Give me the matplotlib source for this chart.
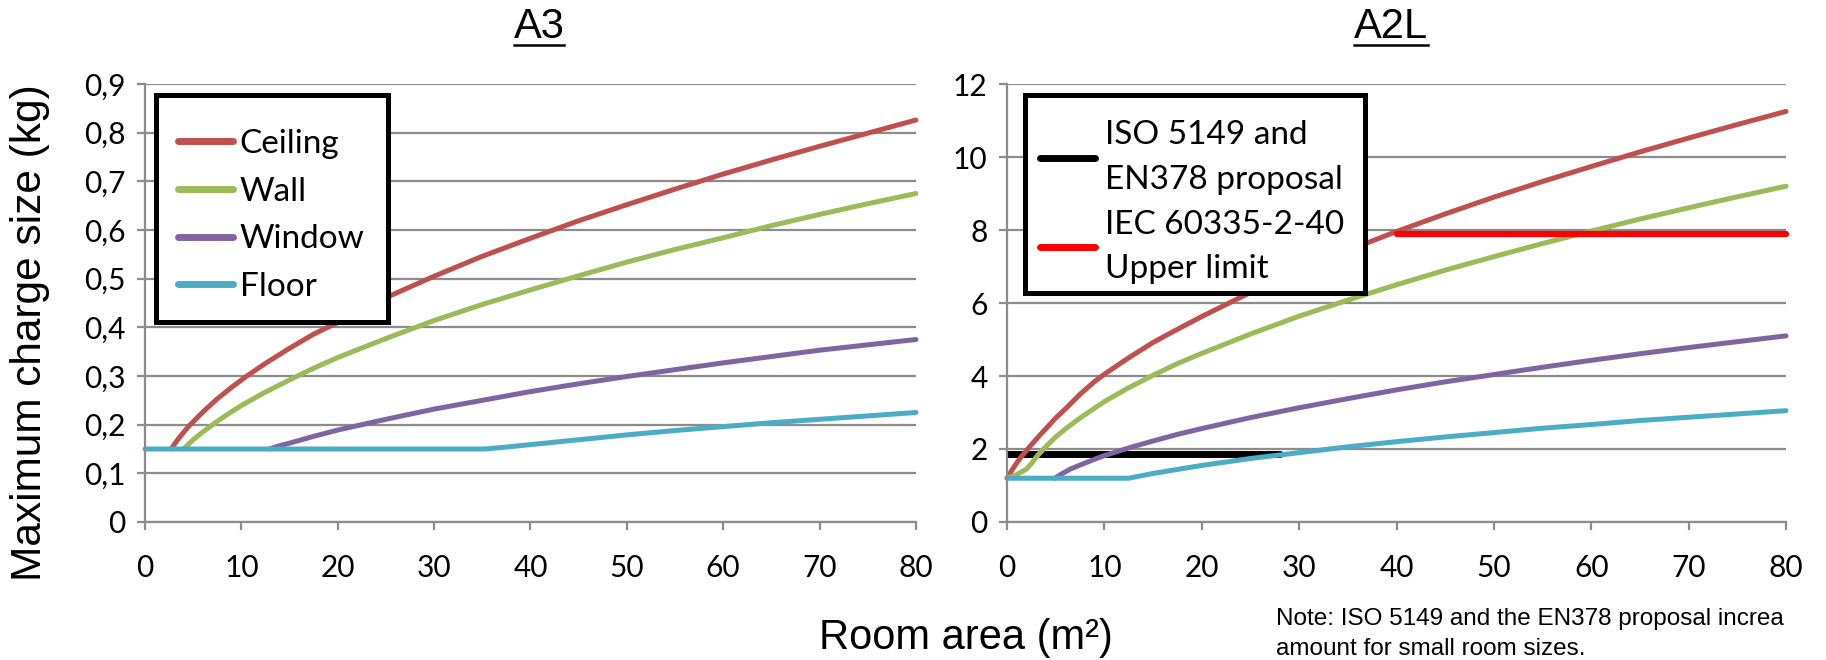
import matplotlib.pyplot as plt
from matplotlib.lines import Line2D
from matplotlib.patches import Rectangle

# ---------- DATA ----------
# A3 refrigerant, max charge size (kg) vs room area (m2)
a3_ceiling_x = [2.7, 3.5, 4.5, 6, 7.5, 9, 10.5, 12.5, 15, 17.5, 20, 25, 30, 35, 40, 45, 50, 55, 60, 65, 70, 75, 80]
a3_ceiling_y = [0.15, 0.172, 0.196, 0.226, 0.253, 0.277, 0.299, 0.326, 0.357, 0.386, 0.41, 0.461, 0.505,
                0.546, 0.583, 0.619, 0.652, 0.684, 0.715, 0.744, 0.772, 0.799, 0.826]
a3_wall_x = [4.0, 5, 6, 7.5, 9, 10.5, 12.5, 15, 17.5, 20, 25, 30, 35, 40, 45, 50, 55, 60, 65, 70, 75, 80]
a3_wall_y = [0.15, 0.169, 0.185, 0.207, 0.227, 0.245, 0.267, 0.292, 0.316, 0.338, 0.377, 0.414, 0.447,
             0.477, 0.506, 0.534, 0.56, 0.584, 0.609, 0.632, 0.654, 0.675]
a3_window_x = [12.9, 14, 15, 17.5, 20, 25, 30, 35, 40, 45, 50, 55, 60, 65, 70, 75, 80]
a3_window_y = [0.15, 0.157, 0.162, 0.176, 0.189, 0.211, 0.232, 0.25, 0.268, 0.284, 0.299, 0.313, 0.327,
               0.34, 0.353, 0.364, 0.375]
a3_floor_x = [0, 35.3, 37.5, 40, 45, 50, 55, 60, 65, 70, 75, 80]
a3_floor_y = [0.15, 0.15, 0.154, 0.159, 0.169, 0.179, 0.188, 0.196, 0.204, 0.211, 0.218, 0.225]

# A2L refrigerant
a2l_ceiling_x = [0, 0.5, 1, 1.5, 2, 3, 4, 5, 6, 7.5, 9, 10, 12.5, 15, 17.5, 20, 25, 30, 35, 40, 45, 50,
                 55, 60, 65, 70, 75, 80]
a2l_ceiling_y = [1.2, 1.42, 1.62, 1.8, 1.96, 2.27, 2.56, 2.85, 3.1, 3.5, 3.85, 4.05, 4.5, 4.92, 5.28, 5.63,
                 6.29, 6.89, 7.44, 7.96, 8.44, 8.9, 9.33, 9.74, 10.14, 10.52, 10.89, 11.25]
a2l_wall_x = [0, 1, 2, 2.5, 3, 4, 5, 6, 7.5, 9, 10, 12.5, 15, 17.5, 20, 25, 30, 35, 40, 45, 50, 55, 60,
              65, 70, 75, 80]
a2l_wall_y = [1.2, 1.3, 1.45, 1.6, 1.78, 2.07, 2.33, 2.55, 2.85, 3.12, 3.3, 3.68, 4.02, 4.34, 4.62, 5.15,
              5.64, 6.08, 6.5, 6.9, 7.27, 7.63, 7.97, 8.3, 8.61, 8.91, 9.2]
a2l_window_x = [4.9, 5.5, 6.5, 7.5, 9, 10, 12.5, 15, 17.5, 20, 25, 30, 35, 40, 45, 50, 55, 60, 65, 70, 75, 80]
a2l_window_y = [1.2, 1.3, 1.45, 1.56, 1.72, 1.82, 2.03, 2.22, 2.4, 2.56, 2.86, 3.13, 3.38, 3.62, 3.84, 4.04,
                4.24, 4.43, 4.61, 4.78, 4.94, 5.1]
a2l_floor_x = [0, 12.5, 15, 17.5, 20, 25, 30, 35, 40, 45, 50, 55, 60, 65, 70, 75, 80]
a2l_floor_y = [1.2, 1.2, 1.33, 1.44, 1.55, 1.74, 1.9, 2.06, 2.2, 2.33, 2.45, 2.57, 2.67, 2.78, 2.87, 2.96, 3.05]
iso_x = [0, 28]
iso_y = [1.85, 1.85]
iec_x = [40, 80]
iec_y = [7.9, 7.9]

x_ticks = [0, 10, 20, 30, 40, 50, 60, 70, 80]
a3_yticks = [0, 0.1, 0.2, 0.3, 0.4, 0.5, 0.6, 0.7, 0.8, 0.9]
a3_ylabels = ["0", "0,1", "0,2", "0,3", "0,4", "0,5", "0,6", "0,7", "0,8", "0,9"]
a2l_yticks = [0, 2, 4, 6, 8, 10, 12]

# ---------- STYLE ----------
C_CEIL = "#C0504D"
C_WALL = "#9BBB59"
C_WIN = "#8064A2"
C_FLOOR = "#4BACC6"
GRID = "#8C8C8C"
TICK_FONT = "Lato"
TEXT_FONT = "Liberation Sans"
LW = 3.6

fig = plt.figure(figsize=(18.26, 6.6), dpi=100)
ax1 = fig.add_axes([0.0794, 0.2091, 0.4222, 0.6636])
ax2 = fig.add_axes([0.5515, 0.2091, 0.4266, 0.6636])


def style_axes(ax, yticks, ylabels, ymax):
    ax.set_xlim(0, 80)
    ax.set_ylim(0, ymax)
    ax.set_xticks(x_ticks)
    ax.set_yticks(yticks)
    ax.set_xticklabels([str(t) for t in x_ticks], fontfamily=TICK_FONT, fontsize=21.5)
    ax.set_yticklabels(ylabels, fontfamily=TICK_FONT, fontsize=21.5)
    for s in ["top", "right"]:
        ax.spines[s].set_visible(False)
    for s in ["left", "bottom"]:
        ax.spines[s].set_color(GRID)
        ax.spines[s].set_linewidth(1.6)
    ax.tick_params(axis="both", direction="out", length=6, width=1.6, color=GRID)
    ax.tick_params(axis="x", pad=17)
    ax.tick_params(axis="y", pad=8)
    ax.yaxis.grid(True, color=GRID, linewidth=1.6)
    ax.set_axisbelow(True)


style_axes(ax1, a3_yticks, a3_ylabels, 0.9)
style_axes(ax2, a2l_yticks, [str(t) for t in a2l_yticks], 12)

kw = dict(linewidth=LW, solid_capstyle="round", solid_joinstyle="round", clip_on=False)

# A3 panel
ax1.plot(a3_ceiling_x, a3_ceiling_y, color=C_CEIL, label="Ceiling", **kw)
ax1.plot(a3_wall_x, a3_wall_y, color=C_WALL, label="Wall", **kw)
ax1.plot(a3_window_x, a3_window_y, color=C_WIN, label="Window", **kw)
ax1.plot(a3_floor_x, a3_floor_y, color=C_FLOOR, label="Floor", **kw)

# A2L panel
ax2.plot(iso_x, iso_y, color="black", linewidth=5, solid_capstyle="round",
         label="ISO 5149 and\nEN378 proposal")
ax2.plot(a2l_ceiling_x, a2l_ceiling_y, color=C_CEIL, **kw)
ax2.plot(a2l_wall_x, a2l_wall_y, color=C_WALL, **kw)
ax2.plot(a2l_window_x, a2l_window_y, color=C_WIN, **kw)
ax2.plot(a2l_floor_x, a2l_floor_y, color=C_FLOOR, **kw)
ax2.plot(iec_x, iec_y, color="#FF0000", linewidth=4.5, solid_capstyle="round",
         clip_on=False, label="IEC 60335-2-40\nUpper limit")

# legend boxes drawn by hand so the padding matches the slide
for ax, (x0, y0, x1, y1) in [(ax1, (0.0143, 0.4566, 0.315, 0.975)),
                             (ax2, (0.0231, 0.5228, 0.4596, 0.975))]:
    ax.add_patch(Rectangle((x0, y0), x1 - x0, y1 - y0, transform=ax.transAxes,
                           facecolor="white", edgecolor="black", linewidth=3.6,
                           zorder=4.9, clip_on=False))

leg_kw = dict(loc="upper left", borderaxespad=0, borderpad=0, frameon=False,
              prop={"family": TICK_FONT, "size": 24}, handlelength=1.65)
leg1 = ax1.legend(bbox_to_anchor=(0.0428, 0.897), labelspacing=0.53,
                  handletextpad=0.2, **leg_kw)
leg2 = ax2.legend(bbox_to_anchor=(0.0424, 0.917), labelspacing=0.45,
                  handletextpad=0.3, **leg_kw)
for t in leg2.get_texts():
    t.set_linespacing(1.6)
for leg in (leg1, leg2):
    for h in leg.get_lines():
        h.set_linewidth(5)

# titles (underlined)
t1 = fig.text(539 / 1826, 1 - 27 / 660, "A3", ha="center", va="center",
              fontfamily=TEXT_FONT, fontsize=30)
t2 = fig.text(1391 / 1826, 1 - 27 / 660, "A2L", ha="center", va="center",
              fontfamily=TEXT_FONT, fontsize=30)
fig.canvas.draw()
r = fig.canvas.get_renderer()
for t in (t1, t2):
    bb = t.get_window_extent(r)
    y = 660 - 45
    fig.add_artist(Line2D([bb.x0 / 1826, bb.x1 / 1826], [y / 660, y / 660],
                          color="black", linewidth=1.8, transform=fig.transFigure))

fig.text(30 / 1826, 1 - 333 / 660, "Maximum charge size (kg)", rotation=90,
         ha="center", va="center", fontfamily=TEXT_FONT, fontsize=30.5)
fig.text(966 / 1826, 1 - 638 / 660, "Room area (m²)", ha="center", va="center",
         fontfamily=TEXT_FONT, fontsize=30)
# the note is cut at the right edge in the original slide
fig.text(1276 / 1826, 1 - 619 / 660, "Note: ISO 5149 and the EN378 proposal increa",
         ha="left", va="center", fontfamily=TEXT_FONT, fontsize=17.5)
fig.text(1276 / 1826, 1 - 649 / 660, "amount for small room sizes.",
         ha="left", va="center", fontfamily=TEXT_FONT, fontsize=17.5)

fig.savefig("out.png", dpi=100)
